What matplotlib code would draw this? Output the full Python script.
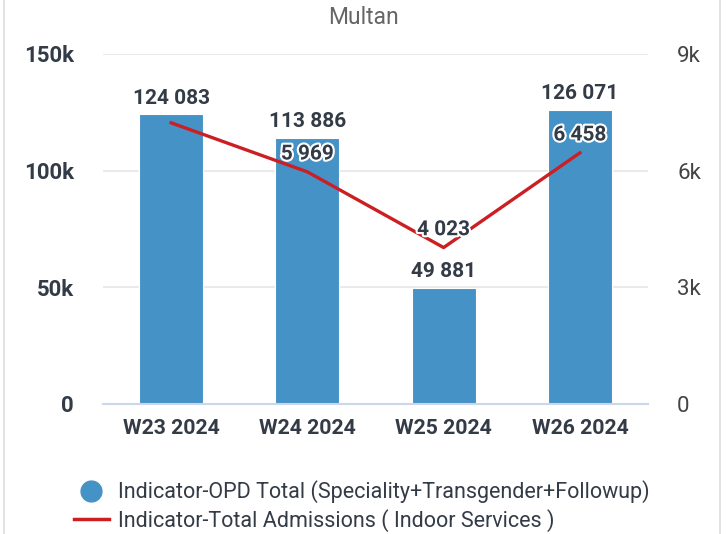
import matplotlib
matplotlib.use("Agg")
import matplotlib.pyplot as plt
import matplotlib.patheffects as pe
from matplotlib.lines import Line2D

plt.rcParams['font.family'] = ['Roboto', 'DejaVu Sans']

weeks = ['W23 2024', 'W24 2024', 'W25 2024', 'W26 2024']
opd_total = [124083, 113886, 49881, 126071]
admissions = [7230, 5969, 4023, 6458]
# highcharts hid the first line label (overlap), so only these get labels
adm_labelled = [False, True, True, True]

left_ticks = [0, 50000, 100000, 150000]
left_labels = ['0', '50k', '100k', '150k']
right_ticks = [0, 3000, 6000, 9000]
right_labels = ['0', '3k', '6k', '9k']

bar_color = '#4592c6'
line_color = '#cc1f24'
txt = '#333b47'

def fmt(v):
    return f'{v:,}'.replace(',', ' ')

fig = plt.figure(figsize=(7.27, 5.34), dpi=100)
ax = fig.add_axes([103/727, 130/534, 545/727, 350/534])
ax2 = ax.twinx()

x = range(len(weeks))
ax.bar(x, opd_total, width=0.47, color=bar_color, edgecolor='white', linewidth=0.8, zorder=2)
ax.set_xlim(-0.5, 3.5)
ax.set_ylim(0, 150000)
ax.set_yticks(left_ticks)
ax.set_yticklabels(left_labels, fontsize=16, fontweight='bold', color=txt)
ax.set_xticks(list(x))
ax.set_xticklabels(weeks, fontsize=15.3, fontweight='bold', color=txt)
ax.tick_params(axis='y', length=0, pad=21)
ax.tick_params(axis='x', length=0, pad=11)
ax.grid(axis='y', color='#e6e6e6', linewidth=1.2, zorder=0)
ax.set_axisbelow(True)
for s in ['top', 'right', 'left']:
    ax.spines[s].set_visible(False)
ax.spines['bottom'].set_color('#ccd6eb')
ax.spines['bottom'].set_linewidth(1.5)

for i, v in enumerate(opd_total):
    ax.annotate(fmt(v), (i, v), xytext=(0, 5), textcoords='offset points',
                ha='center', va='bottom', fontsize=15, fontweight='bold', color=txt)

ax2.plot(list(x), admissions, color=line_color, linewidth=2.4, zorder=3)
ax2.set_ylim(0, 9000)
ax2.set_yticks(right_ticks)
ax2.set_yticklabels(right_labels, fontsize=16, color='#444444', ha='left')
ax2.tick_params(axis='y', length=0, pad=21)
for s in ax2.spines.values():
    s.set_visible(False)

for i, v in enumerate(admissions):
    if not adm_labelled[i]:
        continue
    ax2.annotate(fmt(v), (i, v), xytext=(0, 6), textcoords='offset points',
                 ha='center', va='bottom', fontsize=15, fontweight='bold', color=txt,
                 path_effects=[pe.withStroke(linewidth=3, foreground='white')])

fig.text(0.5, 1 - 18/534, 'Multan', ha='center', va='center', fontsize=16.5, color='#666666')

handles = [
    Line2D([], [], marker='o', linestyle='none', markersize=15, color=bar_color),
    Line2D([], [], color=line_color, linewidth=2.5),
]
names = ['Indicator-OPD Total (Speciality+Transgender+Followup)',
         'Indicator-Total Admissions ( Indoor Services )']
fig.legend(handles, names, loc='center', bbox_to_anchor=(362/727, 1 - 506/534),
           frameon=False, fontsize=15.5, labelcolor=txt, handlelength=1.6,
           handletextpad=0.45, labelspacing=0.25, borderpad=0)

# card border
fig.add_artist(Line2D([4/727, 4/727], [0, 1], color='#dddddd', linewidth=1.2))
fig.add_artist(Line2D([720/727, 720/727], [0, 1], color='#dddddd', linewidth=1.2))

fig.savefig('out.png', dpi=100)
